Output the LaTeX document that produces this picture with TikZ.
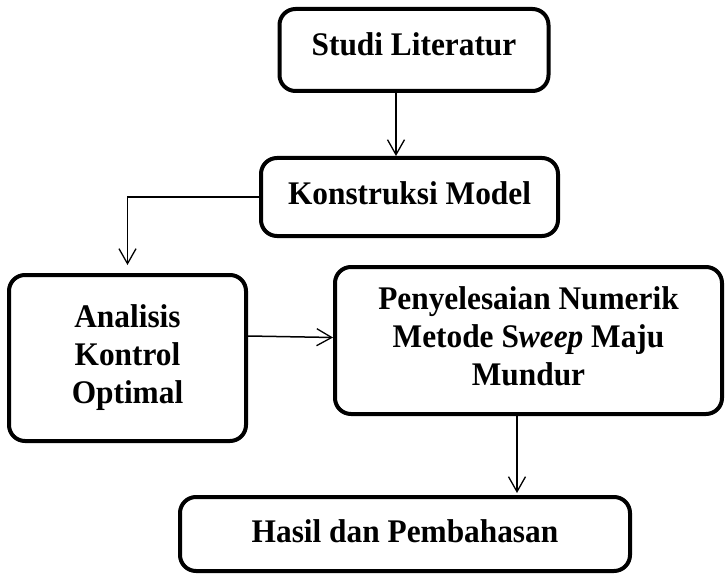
\documentclass[tikz,border=0pt]{standalone}
\usepackage{fontspec}
\setmainfont{Liberation Serif}[FakeStretch=0.95]
\usetikzlibrary{arrows.meta}
\begin{document}
\begin{tikzpicture}[x=1pt,y=-1pt,
  box/.style={draw, line width=4pt, rounded corners=16pt, align=center,
    font=\fontsize{33}{38}\selectfont\bfseries, inner sep=0pt},
  arr/.style={line width=1.5pt, -{Straight Barb[length=15pt,width=17pt,line width=1.3pt]}}]
\useasboundingbox (0,0) rectangle (726,575);
\node[box, minimum width=269pt, minimum height=82pt, text depth=12pt] (s1) at (414,50) {Studi Literatur};
\node[box, minimum width=297pt, minimum height=78pt, text depth=8pt] (s2) at (409.5,197) {Konstruksi Model};
\node[box, minimum width=237pt, minimum height=166pt] (s3) at (127.5,358) {Analisis\\Kontrol\\Optimal};
\node[box, minimum width=387pt, minimum height=147pt, text depth=8pt] (s4) at (528.5,340.5) {Penyelesaian Numerik\\Metode S\textit{weep} Maju\\Mundur};
\node[box, minimum width=450pt, minimum height=74pt, text depth=6pt] (s5) at (405,534) {Hasil dan Pembahasan};
\draw[arr] (s1.south -| 396,0) -- (s2.north -| 396,0);
\draw[arr] (s2.west) -| ([yshift=8pt]s3.north);
\draw[arr] ([yshift=22pt]s3.east) -- ([yshift=3pt]s4.west);
\draw[arr] (s4.south -| 517,0) -- ([yshift=2pt]s5.north -| 517,0);
\end{tikzpicture}
\end{document}
